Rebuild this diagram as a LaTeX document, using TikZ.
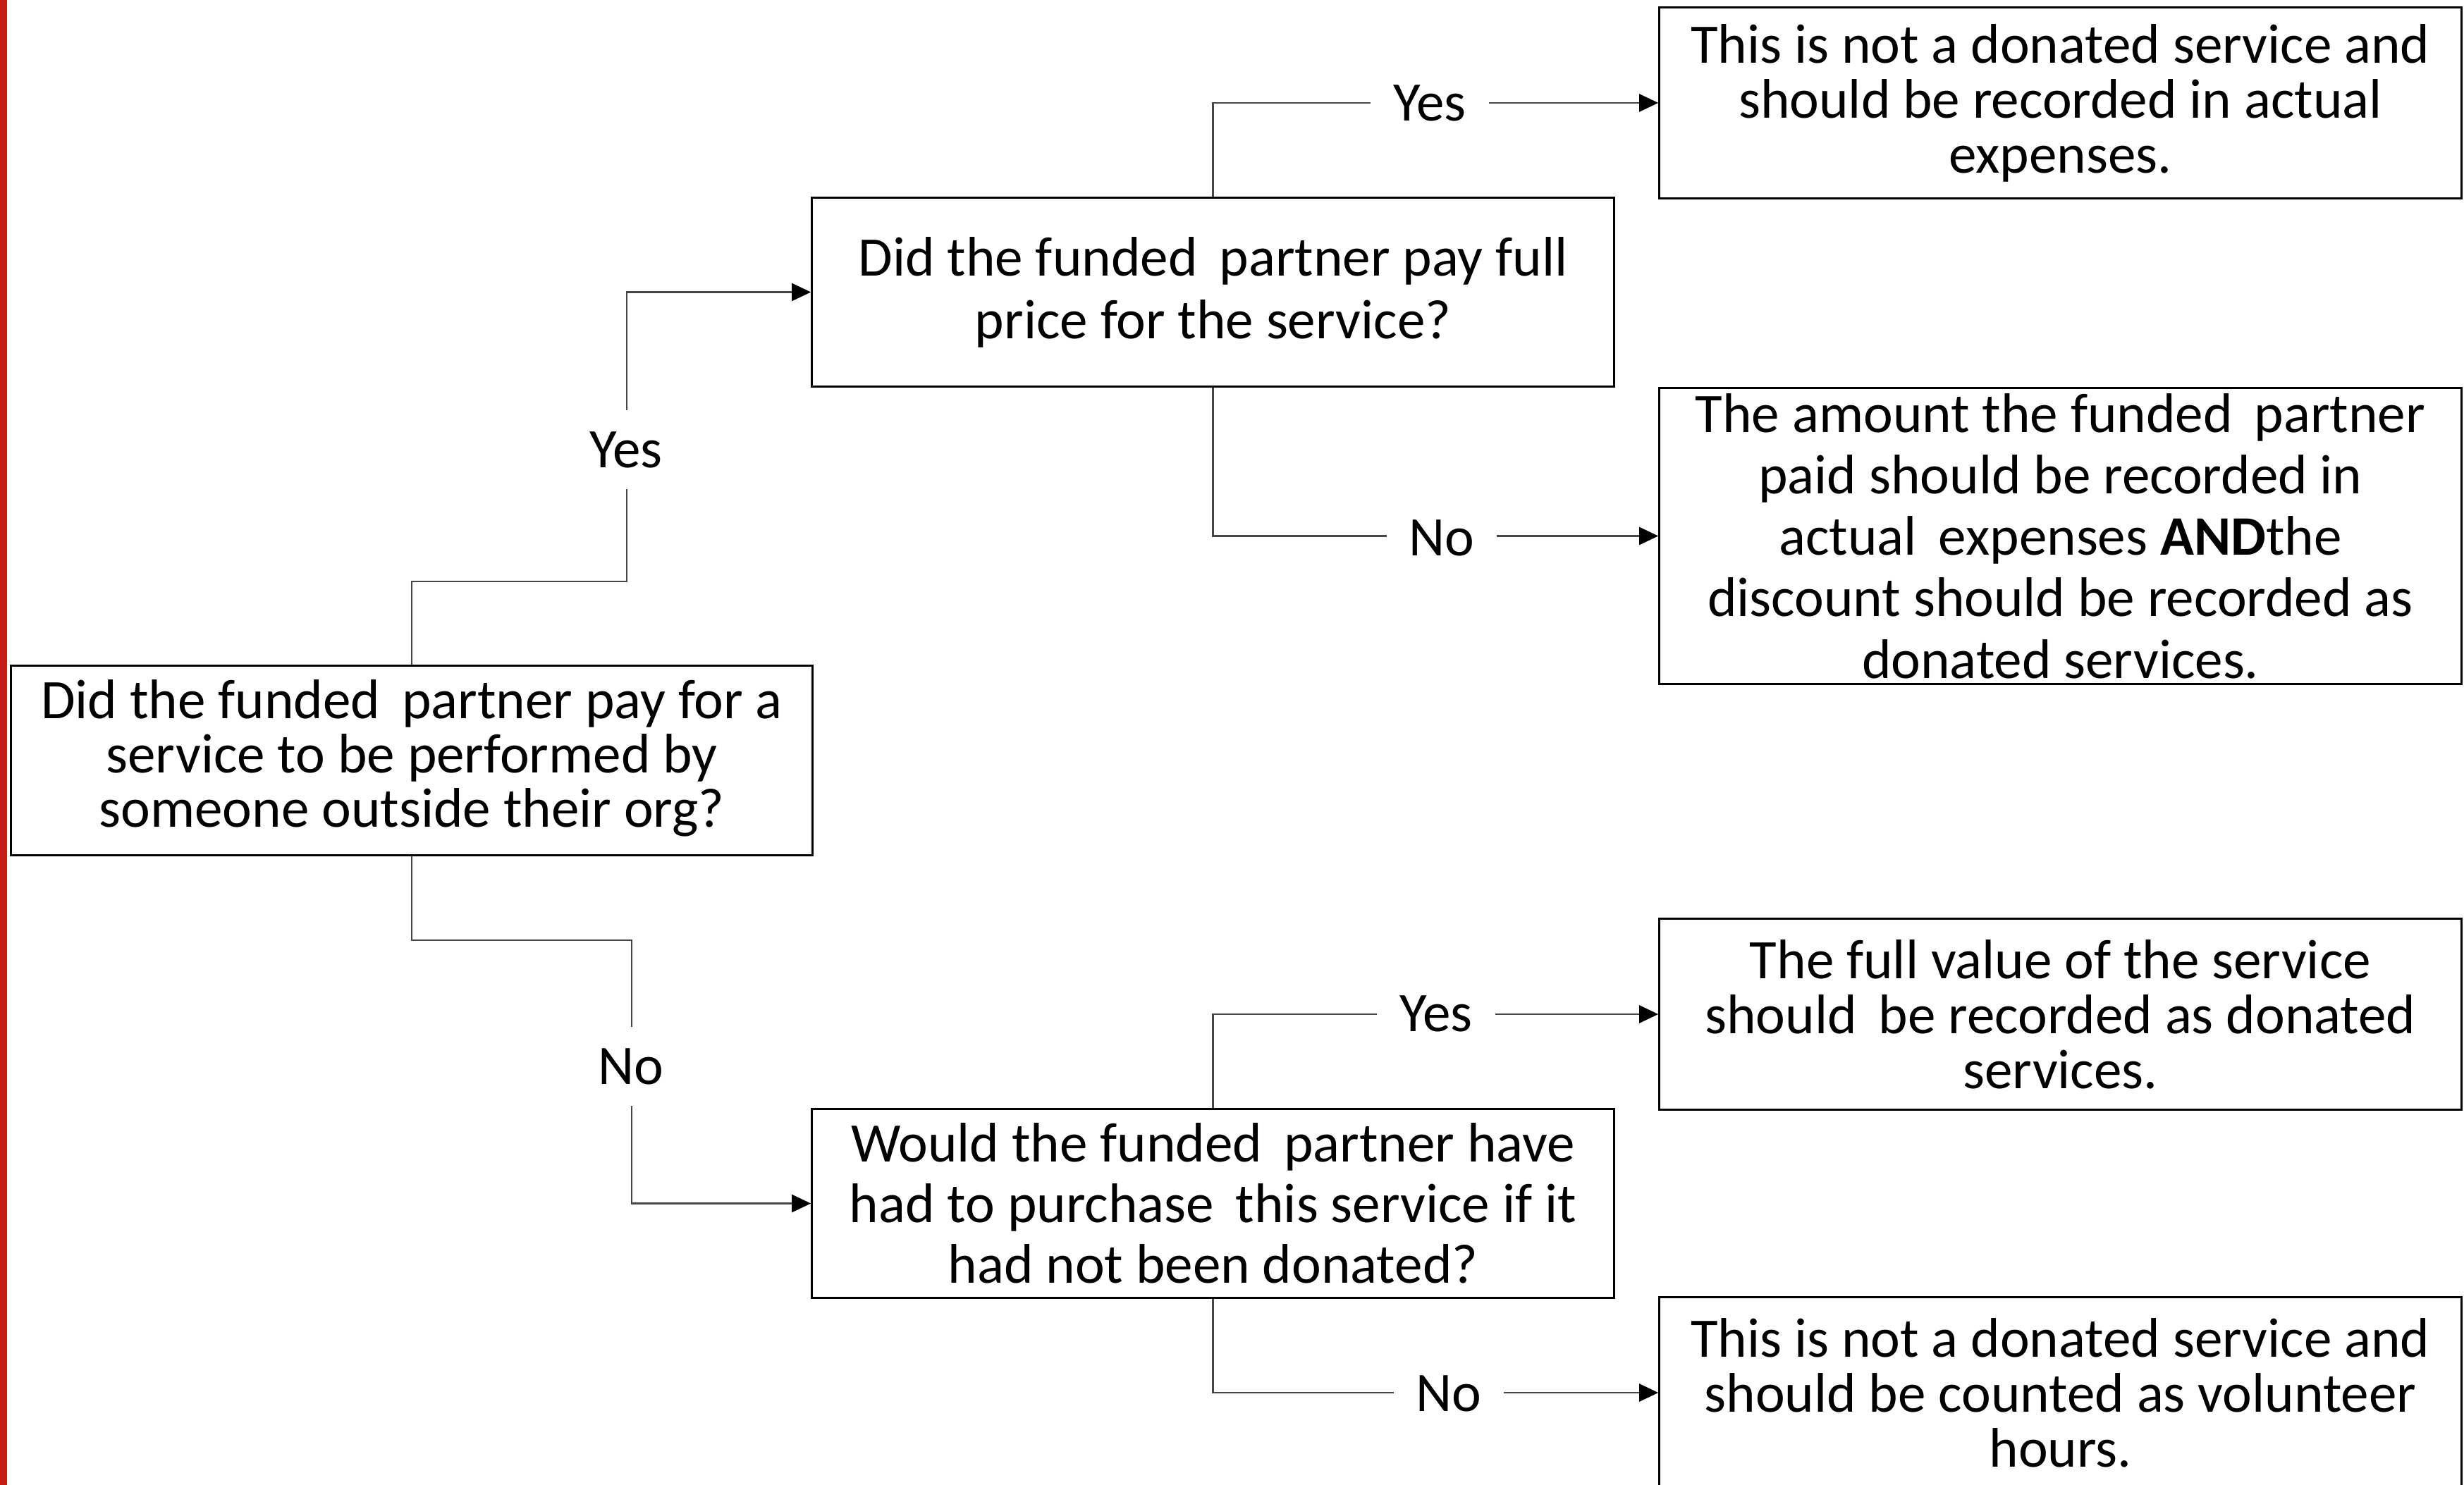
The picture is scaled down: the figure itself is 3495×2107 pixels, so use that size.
\documentclass[tikz,border=0pt]{standalone}
\usepackage{fontspec}
\setmainfont{Carlito}
\usetikzlibrary{arrows.meta}
\definecolor{barred}{RGB}{196,30,22}
\definecolor{linegray}{RGB}{70,70,70}
\tikzset{
  box/.style={draw=black, line width=0.03cm, minimum width=11.37cm, align=center, inner sep=0pt},
  conn/.style={draw=linegray, line width=0.025cm, -{Triangle[length=0.27cm,width=0.25cm,color=black]}},
  lbl/.style={fill=white, inner xsep=0.32cm, inner ysep=0.3cm, font=\fontsize{22.5}{24}\selectfont}
}
\newcommand{\fs}[1]{\fontsize{22.5}{#1}\selectfont}
\begin{document}
\begin{tikzpicture}[x=0.01cm,y=-0.01cm]
\clip (0,0) rectangle (3495,2107);
\fill[white] (0,0) rectangle (3495,2107);
\fill[barred] (0,0) rectangle (10,2107);

\node[box, minimum width=11.36cm, minimum height=2.68cm, font=\fs{21.9pt}, text depth=0.2cm] (A) at (584,1079)
  {Did the funded\, partner pay for a\\ service to be performed by\\ someone outside their org?};
\node[box, minimum height=2.67cm, font=\fs{25.3pt}] (B) at (1720.5,414.5)
  {Did the funded\, partner pay full\\ price for the service?};
\node[box, minimum height=2.67cm, font=\fs{24.5pt}] (C) at (1720.5,1707.5)
  {Would the funded\, partner have\\ had to purchase\, this service if it\\ had not been donated?};
\node[box, minimum height=2.70cm, font=\fs{22.2pt}] (R1) at (2922.5,146)
  {This is not a donated service and\\ should be recorded in actual\\ expenses.};
\node[box, minimum height=4.19cm, font=\fs{24.8pt}] (R2) at (2922.5,760.5)
  {The amount the funded\, partner\\ paid should be recorded in\\ actual\, expenses \textbf{AND}the\\ discount should be recorded as\\ donated services.};
\node[box, minimum height=2.70cm, font=\fs{22.2pt}] (R3) at (2922.5,1439)
  {The full value of the service\\ should\, be recorded as donated\\ services.};
\node[box, minimum height=2.70cm, font=\fs{22.2pt}] (R4) at (2922.5,1976)
  {This is not a donated service and\\ should be counted as volunteer\\ hours.};

\coordinate (ka) at (889,825);
\coordinate (kb) at (896,1334);
\draw[conn] (A.north) |- (ka) |- (B.west);
\draw[conn] (A.south) |- (kb) |- (C.west);
\draw[conn] (B.north) |- (R1.west);
\draw[conn] (B.south) |- (R2.west);
\draw[conn] (C.north) |- (R3.west);
\draw[conn] (C.south) |- (R4.west);

\node[lbl] (yA) at (888,638) {Yes};
\node[lbl] (nA) at (895,1513) {No};
\node[lbl] (yB) at (2028,146) {Yes};
\node[lbl] (nB) at (2045,763) {No};
\node[lbl] (yC) at (2037,1438) {Yes};
\node[lbl] (nC) at (2055,1977) {No};
\end{tikzpicture}
\end{document}
